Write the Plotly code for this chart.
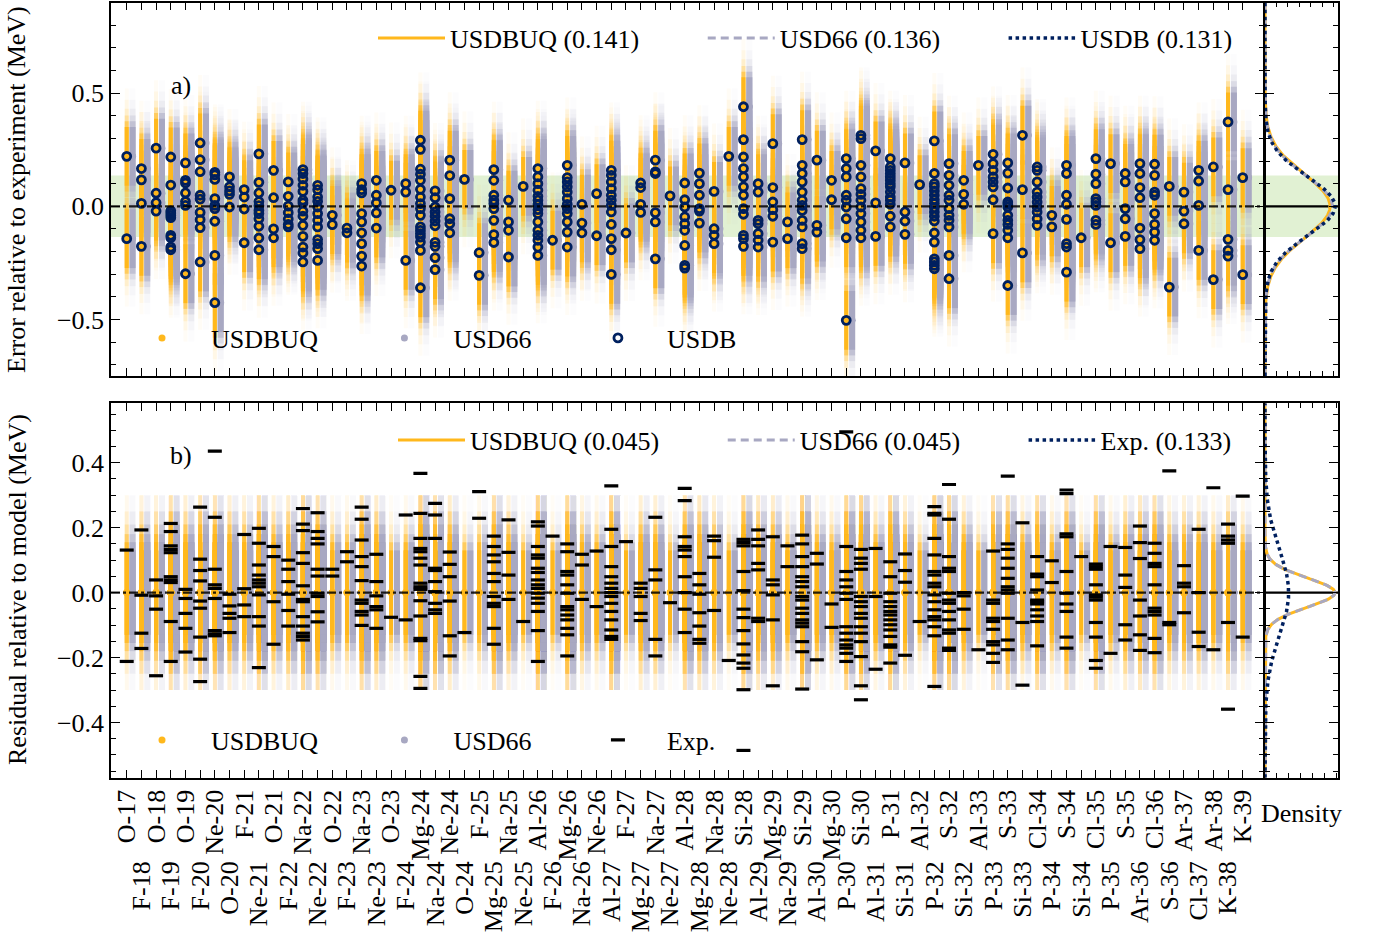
import numpy as np
import plotly.graph_objects as go

# ---------------------------------------------------------------- data
NUCLEI = [
    "O-17", "F-18", "O-18", "F-19", "O-19", "F-20", "Ne-20", "O-20", "F-21", "Ne-21",
    "O-21", "F-22", "Na-22", "Ne-22", "O-22", "F-23", "Na-23", "Ne-23", "O-23", "F-24",
    "Mg-24", "Na-24", "Ne-24", "O-24", "F-25", "Mg-25", "Na-25", "Ne-25", "Al-26", "F-26",
    "Mg-26", "Na-26", "Ne-26", "Al-27", "F-27", "Mg-27", "Na-27", "Ne-27", "Al-28", "Mg-28",
    "Na-28", "Ne-28", "Si-28", "Al-29", "Mg-29", "Na-29", "Si-29", "Al-30", "Mg-30", "P-30",
    "Si-30", "Al-31", "P-31", "Si-31", "Al-32", "P-32", "S-32", "Si-32", "Al-33", "P-33",
    "S-33", "Si-33", "Cl-34", "P-34", "S-34", "Si-34", "Cl-35", "P-35", "S-35", "Ar-36",
    "Cl-36", "S-36", "Ar-37", "Cl-37", "Ar-38", "K-38", "K-39",
]

# USDB error relative to experiment (MeV), one list of levels per nucleus
USDB_ERR = [
    [0.221, -0.143],
    [0.167, 0.117, 0.013, -0.177],
    [0.257, 0.058, 0.016, -0.021],
    [0.218, 0.094, -0.02, -0.03, -0.04, -0.05, -0.128, -0.139, -0.18, -0.192],
    [0.192, 0.115, 0.103, 0.059, 0.021, 0.004, -0.298],
    [0.280, 0.206, 0.153, 0.049, 0.032, -0.027, -0.059, -0.094, -0.246],
    [0.150, 0.139, 0.119, 0.034, 0.004, -0.010, -0.066, -0.217, -0.426],
    [0.130, 0.086, 0.068, 0.053, -0.003],
    [0.074, 0.041, -0.012, -0.161],
    [0.232, 0.106, 0.059, 0.021, 0.003, -0.018, -0.032, -0.055, -0.088, -0.140, -0.192],
    [0.159, 0.038, -0.100, -0.139],
    [0.108, 0.044, 0.001, -0.028, -0.056, -0.080, -0.091],
    [0.162, 0.145, 0.121, 0.093, 0.066, 0.027, 0.015, -0.021, -0.044, -0.084, -0.133, -0.180, -0.206, -0.246],
    [0.093, 0.074, 0.041, 0.022, -0.003, -0.032, -0.062, -0.091, -0.147, -0.165, -0.187, -0.239],
    [-0.040, -0.081],
    [-0.096, -0.117],
    [0.100, 0.074, 0.059, -0.032, -0.069, -0.117, -0.165, -0.220, -0.264],
    [0.115, 0.049, 0.015, -0.029, -0.096],
    [0.071],
    [0.100, 0.063, -0.239],
    [0.292, 0.252, 0.164, 0.142, 0.115, 0.075, 0.041, 0.012, -0.010, -0.040, -0.091, -0.106, -0.121, -0.136, -0.158, -0.195, -0.360],
    [0.068, 0.038, -0.003, -0.025, -0.044, -0.065, -0.086, -0.159, -0.177, -0.227, -0.280],
    [0.204, 0.136, 0.034, -0.055, -0.077, -0.117],
    [0.119],
    [-0.205, -0.305],
    [0.162, 0.115, 0.049, 0.027, 0.012, -0.010, -0.062, -0.125, -0.160],
    [0.027, -0.069, -0.106, -0.224],
    [0.088],
    [0.167, 0.130, 0.100, 0.071, 0.044, 0.027, 0.009, -0.015, -0.032, -0.069, -0.106, -0.128, -0.150, -0.180, -0.217],
    [-0.150],
    [0.181, 0.127, 0.108, 0.086, 0.063, 0.034, 0.009, -0.010, -0.032, -0.069, -0.114, -0.180],
    [0.009, -0.074, -0.117],
    [0.056, -0.130],
    [0.159, 0.137, 0.108, 0.078, 0.049, 0.027, 0.004, -0.025, -0.080, -0.143, -0.192, -0.301],
    [-0.118],
    [0.103, 0.083, 0.009, -0.027],
    [0.204, 0.152, 0.145, -0.028, -0.069, -0.232],
    [0.046],
    [0.103, 0.029, -0.003, -0.047, -0.077, -0.106, -0.173, -0.261, -0.273],
    [0.147, 0.100, 0.049, -0.010, -0.021, -0.074],
    [0.066, -0.099, -0.128, -0.165],
    [0.221],
    [0.440, 0.295, 0.218, 0.167, 0.130, 0.086, 0.049, -0.010, -0.035, -0.128, -0.143, -0.177],
    [0.100, 0.063, -0.062, -0.077, -0.121, -0.150, -0.180],
    [0.277, 0.083, 0.019, -0.015, -0.044, -0.158],
    [-0.069, -0.143],
    [0.295, 0.181, 0.145, 0.108, 0.063, 0.027, 0.004, -0.018, -0.062, -0.091, -0.165, -0.187],
    [0.204, -0.084, -0.114],
    [0.115, 0.029],
    [0.211, 0.167, 0.130, 0.049, 0.027, -0.003, -0.055, -0.139, -0.504],
    [0.314, 0.299, 0.181, 0.130, 0.078, 0.053, 0.027, -0.003, -0.032, -0.069, -0.106, -0.139],
    [0.245, 0.015, -0.133],
    [0.211, 0.174, 0.159, 0.145, 0.130, 0.115, 0.100, 0.086, 0.063, 0.041, 0.027, 0.009, -0.044, -0.091],
    [0.192, -0.025, -0.065, -0.124],
    [0.096],
    [0.289, 0.145, 0.100, 0.086, 0.068, 0.049, 0.029, 0.012, -0.006, -0.025, -0.044, -0.065, -0.118, -0.158, -0.232, -0.246, -0.261, -0.276],
    [0.189, 0.137, 0.093, 0.049, 0.027, -0.010, -0.040, -0.062, -0.091, -0.217, -0.320],
    [0.115, 0.053, 0.009],
    [0.181],
    [0.230, 0.189, 0.159, 0.130, 0.108, 0.086, 0.029, -0.121],
    [0.192, 0.147, 0.081, 0.019, 0.009, -0.003, -0.040, -0.062, -0.080, -0.106, -0.139, -0.350],
    [0.314, 0.074, -0.206],
    [0.174, 0.159, 0.108, 0.063, 0.041, 0.019, -0.003, -0.025, -0.055, -0.084],
    [-0.040, -0.091],
    [0.181, 0.145, 0.049, 0.009, -0.058, -0.165, -0.180, -0.291],
    [-0.139],
    [0.211, 0.142, 0.100, 0.034, 0.019, 0.004, -0.062, -0.080],
    [0.189, -0.161],
    [0.145, 0.108, -0.010, -0.055, -0.133],
    [0.189, 0.145, 0.083, 0.038, -0.096, -0.147, -0.187],
    [0.186, 0.137, 0.063, 0.049, -0.032, -0.080, -0.114, -0.150],
    [0.088, -0.357],
    [0.063, -0.021, -0.077],
    [0.159, 0.112, 0.004, -0.195],
    [0.174, -0.324],
    [0.373, 0.074, -0.146, -0.195, -0.220],
    [0.127, -0.302],
]

# Experimental residual relative to the model mean (MeV), per nucleus
EXP_RESID = [
    [0.131, -0.212],
    [0.193, -0.008, -0.125, -0.172],
    [0.039, -0.010, -0.051, -0.256],
    [0.213, 0.188, 0.144, 0.133, 0.123, 0.049, 0.039, 0.031, -0.089, -0.212],
    [0.010, -0.018, -0.064, -0.110, -0.183],
    [0.263, 0.103, 0.068, 0.036, -0.026, -0.048, -0.137, -0.205, -0.274],
    [0.436, 0.232, 0.072, 0.024, 0.013, -0.018, -0.117, -0.127, -0.133],
    [-0.005, -0.041, -0.064, -0.079, -0.123],
    [0.179, 0.012, -0.038, -0.074],
    [0.198, 0.152, 0.085, 0.054, 0.039, 0.029, 0.018, -0.007, -0.074, -0.103, -0.231],
    [0.142, 0.111, -0.028, -0.159],
    [0.100, 0.072, 0.034, -0.005, -0.055, -0.103],
    [0.259, 0.211, 0.191, 0.123, 0.090, 0.021, -0.021, -0.028, -0.074, -0.103, -0.125, -0.135, -0.146],
    [0.246, 0.188, 0.167, 0.150, 0.072, 0.051, -0.002, -0.012, -0.059, -0.090],
    [0.072, 0.051],
    [0.126, 0.095],
    [0.263, 0.226, 0.162, 0.111, 0.080, 0.037, -0.023, -0.033, -0.058, -0.069, -0.101],
    [0.118, 0.034, -0.010, -0.043, -0.053, -0.110],
    [-0.076],
    [0.239, -0.084],
    [0.367, 0.244, 0.167, 0.136, 0.126, 0.106, 0.085, 0.029, 0.018, 0.010, -0.025, -0.072, -0.141, -0.148, -0.258, -0.295],
    [0.275, 0.239, 0.167, 0.075, 0.068, 0.034, 0.003, -0.033, -0.053, -0.064],
    [0.125, 0.087, 0.049, -0.026, -0.133, -0.195],
    [-0.123],
    [0.311, 0.229],
    [0.174, 0.142, 0.116, 0.095, 0.059, 0.034, -0.012, -0.033, -0.043, -0.110, -0.159],
    [0.224, 0.124, 0.054, -0.021],
    [-0.089],
    [0.218, 0.205, 0.142, 0.116, 0.106, 0.075, 0.062, 0.039, 0.024, 0.013, -0.002, -0.017, -0.033, -0.058, -0.117, -0.212],
    [0.174],
    [0.150, 0.126, 0.065, 0.054, 0.024, -0.002, -0.043, -0.053, -0.069, -0.084, -0.110, -0.130, -0.195],
    [0.118, 0.085, -0.021],
    [0.128, -0.043],
    [0.329, 0.195, 0.142, 0.080, 0.049, 0.029, 0.013, 0.000, -0.012, -0.033, -0.058, -0.084, -0.115, -0.135, -0.144],
    [0.157],
    [0.029, 0.013, -0.012, -0.064, -0.086],
    [0.232, 0.070, 0.039, -0.144, -0.195],
    [-0.031],
    [0.321, 0.283, 0.172, 0.142, 0.131, 0.111, 0.049, 0.000, -0.051, -0.123],
    [0.059, 0.024, -0.005, -0.062, -0.103, -0.144, -0.156],
    [0.174, 0.160, 0.109, -0.055],
    [-0.209],
    [0.164, 0.154, 0.144, 0.065, 0.006, -0.051, -0.077, -0.117, -0.158, -0.192, -0.217, -0.233, -0.299, -0.486],
    [0.193, 0.164, 0.144, 0.090, 0.070, -0.079, -0.089],
    [0.172, 0.039, 0.024, -0.007, -0.084, -0.287],
    [0.144, 0.080],
    [0.177, 0.150, 0.111, 0.080, 0.049, 0.034, 0.018, -0.012, -0.023, -0.048, -0.064, -0.084, -0.094, -0.105, -0.151, -0.182, -0.297],
    [0.121, 0.088, -0.207],
    [-0.035, -0.107],
    [0.495, 0.142, 0.065, 0.039, 0.018, -0.002, -0.021, -0.105, -0.125, -0.146, -0.161, -0.171, -0.187, -0.212],
    [0.133, 0.106, 0.090, 0.072, -0.012, -0.028, -0.043, -0.064, -0.079, -0.105, -0.125, -0.151, -0.197, -0.287, -0.330],
    [0.136, -0.012, -0.236],
    [0.095, 0.049, -0.002, -0.028, -0.043, -0.058, -0.069, -0.084, -0.099, -0.115, -0.135, -0.161, -0.168, -0.217],
    [0.119, 0.068, 0.032, -0.193],
    [-0.089],
    [0.265, 0.244, 0.239, 0.167, 0.116, 0.065, 0.054, 0.029, 0.018, -0.007, -0.028, -0.053, -0.074, -0.084, -0.105, -0.133, -0.289],
    [0.333, 0.226, 0.111, 0.075, 0.065, -0.002, -0.023, -0.033, -0.058, -0.084, -0.115, -0.125, -0.171, -0.178],
    [0.000, -0.010, -0.051, -0.113],
    [-0.176],
    [0.128, -0.023, -0.033, -0.079, -0.089, -0.113, -0.151, -0.161, -0.187, -0.215],
    [0.359, 0.150, 0.133, 0.106, 0.075, 0.044, 0.018, 0.008, -0.002, -0.079, -0.146, -0.176],
    [0.215, -0.092, -0.285],
    [0.111, 0.057, 0.049, 0.008, -0.023, -0.028, -0.035, -0.053, -0.072, -0.089, -0.164],
    [0.098, 0.031],
    [0.316, 0.305, 0.181, 0.172, 0.065, -0.002, -0.035, -0.058, -0.137, -0.171],
    [0.111],
    [0.088, 0.080, 0.072, 0.024, -0.007, -0.014, -0.023, -0.092, -0.137, -0.209, -0.233],
    [0.142, -0.187],
    [0.139, 0.054, 0.016, -0.099, -0.146],
    [0.205, 0.154, 0.105, -0.023, -0.072, -0.130, -0.178],
    [0.152, 0.121, 0.090, 0.080, 0.024, -0.048, -0.058, -0.069, -0.141, -0.185],
    [0.375, -0.092, -0.099],
    [0.083, 0.029, 0.018, -0.062],
    [0.195, 0.000, -0.122, -0.166],
    [0.323, -0.176],
    [0.211, 0.174, 0.162, 0.152, -0.092, -0.359],
    [0.297, -0.137],
]

# RMS values quoted in the legends (MeV)
ERR_SERIES = ["USDBUQ", "USD66", "USDB"]
ERR_RMS = [0.141, 0.136, 0.131]
RESID_SERIES = ["USDBUQ", "USD66", "Exp."]
RESID_RMS = [0.045, 0.045, 0.133]
BAND_HALF = 0.136

# ---------------------------------------------------------------- style
FONT = "Liberation Serif"
ORANGE = (255, 184, 28)
GREY = (168, 168, 194)
NAVY = "#00205f"
NBSP = "\u00a0"

# sample clouds drawn as stacked translucent vertical strips: (half-height, alpha),
# outermost first so the opaque core ends up on top
STRIP_LAYERS = [(0.30, 0.04), (0.25, 0.07), (0.21, 0.13), (0.18, 0.25), (0.155, 0.5), (0.13, 1.0)]


def rgba(c, a):
    return f"rgba({c[0]},{c[1]},{c[2]},{a})"


def gauss(y, s):
    return np.exp(-0.5 * (y / s) ** 2) / (s * np.sqrt(2.0 * np.pi))


def strip_traces(centers, xa, ya, color, offset, thick, name, legend, rank):
    xs = [i + offset for i, lv in enumerate(centers) for _ in lv]
    ys = [v for lv in centers for v in lv]
    n = len(ys)
    out = []
    for k, (h, a) in enumerate(STRIP_LAYERS):
        core = k == len(STRIP_LAYERS) - 1
        out.append(go.Scatter(
            x=xs, y=ys, mode="markers",
            marker=dict(size=7 if core else 0, color=rgba(color, 1), line=dict(width=0)),
            error_y=dict(type="data", array=[h] * n, symmetric=True,
                         thickness=thick, width=0, color=rgba(color, a)),
            xaxis=xa, yaxis=ya, name=name, showlegend=core, legend=legend,
            legendrank=rank, hoverinfo="skip"))
    return out


fig = go.Figure()

# ---------------- panel a: errors relative to experiment
for tr in strip_traces(USDB_ERR, "x", "y", GREY, 0.4, 6, "USD66" + NBSP * 5, "legend2", 2):
    fig.add_trace(tr)
for tr in strip_traces(USDB_ERR, "x", "y", ORANGE, 0.0, 4, "USDBUQ" + NBSP * 5, "legend2", 1):
    fig.add_trace(tr)

fig.add_trace(go.Scatter(
    x=[i for i, lv in enumerate(USDB_ERR) for _ in lv],
    y=[v for lv in USDB_ERR for v in lv],
    mode="markers", name="USDB", legendrank=3,
    marker=dict(symbol="circle-open", size=8, color=NAVY, line=dict(width=2.8, color=NAVY)),
    xaxis="x", yaxis="y", legend="legend2", hoverinfo="skip"))

ygrid_a = np.linspace(-0.75, 0.9, 500)
dens_styles = [
    dict(color=rgba(ORANGE, 1), width=3, dash="solid"),
    dict(color=rgba(GREY, 1), width=3, dash="8px,5px"),
    dict(color=NAVY, width=3.5, dash="dot"),
]
for nm, s, st in zip(ERR_SERIES, ERR_RMS, dens_styles):
    fig.add_trace(go.Scatter(
        x=gauss(ygrid_a, s), y=ygrid_a, mode="lines", line=st,
        name=f"{nm} ({s:.3f})" + NBSP * 9, xaxis="x2", yaxis="y2",
        legend="legend", hoverinfo="skip"))

# ---------------- panel b: residuals relative to model
zero_centers = [[0.0] * len(lv) for lv in EXP_RESID]
for tr in strip_traces(zero_centers, "x3", "y3", GREY, 0.4, 6, "USD66" + NBSP * 5, "legend4", 2):
    fig.add_trace(tr)
for tr in strip_traces(zero_centers, "x3", "y3", ORANGE, 0.0, 4, "USDBUQ" + NBSP * 5, "legend4", 1):
    fig.add_trace(tr)

fig.add_trace(go.Scatter(
    x=[i for i, lv in enumerate(EXP_RESID) for _ in lv],
    y=[v for lv in EXP_RESID for v in lv],
    mode="markers", name="Exp.", legendrank=3,
    marker=dict(symbol="line-ew", size=10, color="black", line=dict(width=3.2, color="black")),
    xaxis="x3", yaxis="y3", legend="legend4", hoverinfo="skip"))

ygrid_b = np.linspace(-0.57, 0.583, 500)
for nm, s, st in zip(RESID_SERIES, RESID_RMS, dens_styles):
    fig.add_trace(go.Scatter(
        x=gauss(ygrid_b, s), y=ygrid_b, mode="lines", line=st,
        name=f"{nm} ({s:.3f})" + NBSP * 9, xaxis="x4", yaxis="y4",
        legend="legend3", hoverinfo="skip"))

# ---------------------------------------------------------------- axes
W, H = 1377, 937
main_dom = [111 / W, 1264 / W]
dens_dom = [1265 / W, 1338 / W]
dom_a = [1 - 376 / H, 1 - 2.7 / H]
dom_b = [1 - 777.7 / H, 1 - 403.3 / H]
XR = [-1.07, 77.45]

tick_font = dict(family=FONT, size=26, color="black")
common = dict(showline=True, linecolor="black", linewidth=1.5, mirror="ticks",
              ticks="inside", tickcolor="black", showgrid=False, zeroline=False,
              tickfont=tick_font)

ticktext = [nm if i % 2 == 0 else nm + NBSP * 11 for i, nm in enumerate(NUCLEI)]

fig.update_layout(
    xaxis=dict(domain=main_dom, range=XR, tickmode="array", tickvals=list(range(len(NUCLEI))),
               showticklabels=False, ticklen=8, tickwidth=1.2, anchor="y", **common),
    yaxis=dict(domain=dom_a, range=[-0.75, 0.90], dtick=0.5, tick0=0, tickformat=".1f",
               ticklen=9, tickwidth=1.2, anchor="x",
               minor=dict(ticks="inside", dtick=0.1, tick0=0, ticklen=5, tickcolor="black"),
               **common),
    xaxis2=dict(domain=dens_dom, range=[0, 3.175], dtick=0.5, tick0=0, showticklabels=False,
                ticklen=5, anchor="y2", **common),
    yaxis2=dict(domain=dom_a, matches="y", dtick=0.5, tick0=0, showticklabels=False,
                ticklen=9, anchor="x2",
                minor=dict(ticks="inside", dtick=0.1, tick0=0, ticklen=5, tickcolor="black"),
                **common),
    xaxis3=dict(domain=main_dom, range=XR, tickmode="array", tickvals=list(range(len(NUCLEI))),
                ticktext=ticktext, tickangle=-90, ticklen=8, tickwidth=1.2, anchor="y3", **common),
    yaxis3=dict(domain=dom_b, range=[-0.57, 0.583], dtick=0.2, tick0=0, tickformat=".1f",
                ticklen=9, tickwidth=1.2, anchor="x3",
                minor=dict(ticks="inside", dtick=0.05, tick0=0, ticklen=5, tickcolor="black"),
                **common),
    xaxis4=dict(domain=dens_dom, range=[0, 9.25], dtick=1.5, tick0=0, showticklabels=False,
                ticklen=5, anchor="y4", **common),
    yaxis4=dict(domain=dom_b, matches="y3", dtick=0.2, tick0=0, showticklabels=False,
                ticklen=9, anchor="x4",
                minor=dict(ticks="inside", dtick=0.05, tick0=0, ticklen=5, tickcolor="black"),
                **common),
)

# ---------------------------------------------------------------- legends
leg_common = dict(orientation="h", xanchor="left", yanchor="middle", bgcolor="rgba(0,0,0,0)",
                  borderwidth=0, font=dict(family=FONT, size=26, color="black"),
                  traceorder="normal")
fig.update_layout(
    legend=dict(x=373 / W, y=1 - 38 / H, itemwidth=67, **leg_common),
    legend2=dict(x=113 / W, y=1 - 338 / H, itemwidth=88, **leg_common),
    legend3=dict(x=393 / W, y=1 - 440 / H, itemwidth=67, **leg_common),
    legend4=dict(x=113 / W, y=1 - 740 / H, itemwidth=88, **leg_common),
)

# ---------------------------------------------------------------- shapes
band = "rgba(170,215,130,0.35)"
shapes = []
for xr, yr in (("x", "y"), ("x2", "y2")):
    shapes.append(dict(type="rect", xref=f"{xr} domain", yref=yr, x0=0, x1=1,
                       y0=-BAND_HALF, y1=BAND_HALF, fillcolor=band, line=dict(width=0),
                       layer="below"))
for xr, yr in (("x", "y"), ("x3", "y3")):
    shapes.append(dict(type="line", xref=f"{xr} domain", yref=yr, x0=0, x1=1, y0=0, y1=0,
                       line=dict(color="rgba(0,0,0,0.85)", width=2.2, dash="dashdot"),
                       layer="above"))
for xr, yr in (("x2", "y2"), ("x4", "y4")):
    shapes.append(dict(type="line", xref=f"{xr} domain", yref=yr, x0=0, x1=1, y0=0, y1=0,
                       line=dict(color="black", width=2.2), layer="below"))
fig.update_layout(shapes=shapes)

# ---------------------------------------------------------------- text
ann_font = dict(family=FONT, size=26, color="black")
fig.update_layout(annotations=[
    dict(text="Error relative to experiment (MeV)", xref="paper", yref="paper",
         x=17 / W, y=1 - 190 / H, textangle=-90, showarrow=False, font=ann_font,
         xanchor="center", yanchor="middle"),
    dict(text="Residual relative to model (MeV)", xref="paper", yref="paper",
         x=17 / W, y=1 - 590 / H, textangle=-90, showarrow=False, font=ann_font,
         xanchor="center", yanchor="middle"),
    dict(text="a)", xref="paper", yref="paper", x=181 / W, y=1 - 85 / H, showarrow=False,
         font=ann_font, xanchor="center", yanchor="middle"),
    dict(text="b)", xref="paper", yref="paper", x=181 / W, y=1 - 455 / H, showarrow=False,
         font=ann_font, xanchor="center", yanchor="middle"),
    dict(text="Density", xref="paper", yref="paper", x=1301 / W, y=1 - 813 / H,
         showarrow=False, font=ann_font, xanchor="center", yanchor="middle"),
])

fig.update_layout(
    width=W, height=H, margin=dict(l=0, r=0, t=0, b=0, autoexpand=False),
    paper_bgcolor="white", plot_bgcolor="white",
    font=dict(family=FONT, size=26, color="black"),
)

fig.write_html("out.html")
